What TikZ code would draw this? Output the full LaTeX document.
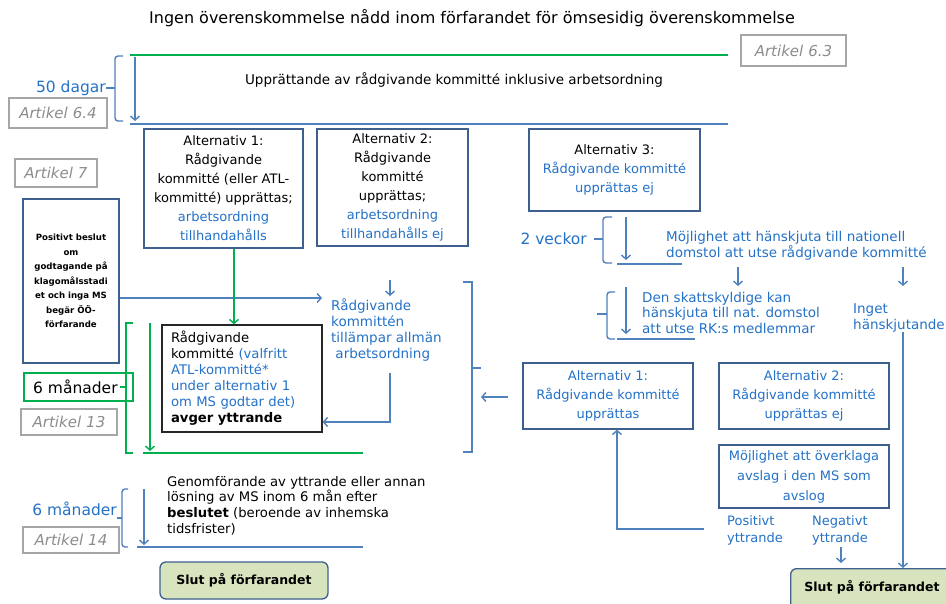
\documentclass[tikz,border=0pt]{standalone}
\usepackage{fontspec}
\setmainfont{DejaVu Sans}[ItalicFont={DejaVu Sans Oblique},BoldItalicFont={DejaVu Sans Bold Oblique}]
\usetikzlibrary{arrows.meta}
\definecolor{boxblue}{HTML}{3F5F8F}
\definecolor{lineblue}{HTML}{4F81BD}
\definecolor{txtblue}{HTML}{2472C8}
\definecolor{grn}{HTML}{00B050}
\definecolor{endfill}{HTML}{D7E4BD}
\definecolor{artgray}{HTML}{A6A6A6}
\definecolor{arttext}{HTML}{8C8C8C}
\newcommand{\fsz}[2]{\fontsize{#1}{#2}\selectfont}
\newcommand{\bt}[1]{{\color{txtblue}#1}}
\begin{document}
\begin{tikzpicture}[x=1pt,y=-1pt,
  >={Straight Barb[length=4pt,width=9pt]},
  bx/.style={draw=boxblue,line width=1.3pt,align=center,inner sep=0pt,font=\fsz{13}{19}},
  artbox/.style={draw=artgray,line width=1.2pt,inner sep=0pt,font=\fsz{15}{16}\itshape,text=arttext},
  bl/.style={draw=lineblue,line width=1.4pt},
  gl/.style={draw=grn,line width=1.4pt},
  endbox/.style={draw=boxblue,line width=1.3pt,fill=endfill,rounded corners=6pt,inner sep=0pt,font=\fsz{12.5}{15}\bfseries},
  btxt/.style={text=txtblue,align=left,inner sep=0pt,font=\fsz{13.5}{16}},
  big/.style={text=txtblue,inner sep=0pt,font=\fsz{15.5}{18}},
]
\clip (0,0) rectangle (946,603);
\fill[white] (0,0) rectangle (946,603);

% title
\node[inner sep=0pt,font=\fsz{16}{18}] (title) at (472,18) {Ingen överenskommelse nådd inom förfarandet för ömsesidig överenskommelse};

% top section
\coordinate (gtl) at (130,55); \coordinate (gtr) at (728,55);
\coordinate (btl) at (130,124); \coordinate (btr) at (728,124);
\draw[gl] (gtl) -- (gtr);
\draw[bl] (btl) -- (btr);
\coordinate (a1s) at (135,57); \coordinate (a1e) at (135,121);
\draw[bl,->] (a1s) -- (a1e);
\node[inner sep=0pt,font=\fsz{13.5}{16}] (upp) at (454,80) {Upprättande av rådgivande kommitté inklusive arbetsordning};
\node[artbox,minimum width=105pt,minimum height=31pt] (art63) at (793.5,50.5) {Artikel\,\,6.3};
\node[artbox,minimum width=98pt,minimum height=30pt] (art64) at (58,113) {Artikel\,\,6.4};
\node[big,anchor=east] (d50) at (106,88) {50 dagar};
\draw[bl,rounded corners=3pt] (123,56) -- (115,56) -- (115,121) -- (123,121);
\draw[bl] (d50.east) -- (115,88);

% alternative boxes
\node[bx,minimum width=159pt,minimum height=119pt] (alt1) at (223.5,188.5)
  {Alternativ 1:\\Rådgivande\\kommitté (eller ATL-\\kommitté) upprättas;\\\bt{arbetsordning}\\\bt{tillhandahålls}};
\node[bx,minimum width=151pt,minimum height=117pt] (alt2) at (392.5,187.5)
  {Alternativ 2:\\Rådgivande\\kommitté\\upprättas;\\\bt{arbetsordning}\\\bt{tillhandahålls ej}};
\node[bx,minimum width=171pt,minimum height=82pt] (alt3) at (614.5,170)
  {Alternativ 3:\\\bt{Rådgivande kommitté}\\\bt{upprättas ej}};

\node[artbox,minimum width=82pt,minimum height=28pt] (art7) at (56,173) {Artikel\,\,7};
\node[bx,minimum width=96pt,minimum height=164pt,font=\fsz{8.6}{14.5}\bfseries] (left) at (71,281)
  {Positivt beslut\\om\\godtagande på\\klagomålsstadi\\et och inga MS\\begär ÖÖ-\\förfarande};

% middle
\node[btxt,anchor=west] (rk) at (331,330) {Rådgivande\\kommittén\\tillämpar allmän\\\ arbetsordning};
\coordinate (rkin) at (322,298);
\draw[bl,->] (left.east |- rkin) -- (rkin);
\coordinate (sa1) at (390,280); \coordinate (sa2) at (390,296);
\draw[bl,->] (sa1) -- (sa2);

\node[draw=black!85,line width=1.3pt,minimum width=160pt,minimum height=107pt,inner sep=0pt,text width=142pt,align=left,font=\fsz{13.2}{16}] (black) at (242,378.5)
  {Rådgivande\\kommitté \bt{(valfritt}\\\bt{ATL-kommitté*}\\\bt{under alternativ 1}\\\bt{om MS godtar det)}\\\textbf{avger yttrande}};
\coordinate (rkout) at (390,373);
\draw[bl,->] (rkout) |- (black.east |- 0,422);

\coordinate (gx) at (234,0);
\draw[gl,->] (alt1.south -| gx) -- (black.north -| gx);

% green bracket
\node[draw=grn,line width=1.3pt,minimum width=109pt,minimum height=28pt,inner sep=0pt] (m6box) at (78.5,387) {};
\node[inner sep=0pt,font=\fsz{15.5}{18},anchor=west] (m6) at (33,387) {6 månader};
\draw[gl] (133,323) -- (126,323) -- (126,453) -- (133,453);
\draw[gl] (120,387) -- (126,387);
\coordinate (ga1) at (150,323); \coordinate (ga2) at (150,451);
\draw[gl,->] (ga1) -- (ga2);
\coordinate (gbl) at (143,453); \coordinate (gbr) at (363,453);
\draw[gl] (gbl) -- (gbr);
\node[artbox,minimum width=96pt,minimum height=26pt] (art13) at (69,422) {Artikel\,\,13};

% right bracket
\draw[bl] (463,282) -- (472,282) -- (472,452) -- (463,452);
\draw[bl] (472,368) -- (481,368);
\coordinate (rbs) at (508,397); \coordinate (rbe) at (481,397);
\draw[bl,->] (rbs) -- (rbe);

% right side
\node[big,anchor=east] (v2) at (587,239) {2 veckor};
\draw[bl] (594,239) -- (603,239);
\draw[bl,rounded corners=3pt] (612,217) -- (603,217) -- (603,263) -- (612,263);
\coordinate (va1) at (626,217); \coordinate (va2) at (626,260);
\draw[bl,->] (va1) -- (va2);
\coordinate (vl1) at (617,264); \coordinate (vl2) at (682,264);
\draw[bl] (vl1) -- (vl2);
\node[btxt,anchor=west] (moj) at (666,246) {Möjlighet att hänskjuta till nationell\\domstol att utse rådgivande kommitté};
\coordinate (ma1) at (738,267); \coordinate (ma2) at (738,286);
\draw[bl,->] (ma1) -- (ma2);
\coordinate (mb1) at (903,267); \coordinate (mb2) at (903,286);
\draw[bl,->] (mb1) -- (mb2);

\draw[bl] (597,314) -- (607,314);
\draw[bl,rounded corners=3pt] (615,292) -- (607,292) -- (607,339) -- (615,339);
\coordinate (sk1) at (626,287); \coordinate (sk2) at (626,334);
\draw[bl,->] (sk1) -- (sk2);
\coordinate (sl1) at (617,339); \coordinate (sl2) at (695,339);
\draw[bl] (sl1) -- (sl2);
\node[btxt,anchor=west,font=\fsz{13.5}{15.5}] (skatt) at (642,312.5) {Den skattskyldige kan\\hänskjuta till nat. domstol\\att utse RK:s medlemmar};
\node[btxt,anchor=west] (inget) at (853,318) {Inget\\hänskjutande};

\node[bx,minimum width=170pt,minimum height=66pt,text=txtblue] (alt1r) at (608,396)
  {Alternativ 1:\\Rådgivande kommitté\\upprättas};
\node[bx,minimum width=170pt,minimum height=66pt,text=txtblue] (alt2r) at (804,396)
  {Alternativ 2:\\Rådgivande kommitté\\upprättas ej};
\node[bx,minimum width=170pt,minimum height=63pt,text=txtblue,font=\fsz{13}{20}] (ovk) at (804,476.5)
  {Möjlighet att överklaga\\avslag i den MS som\\avslog};

\node[btxt,anchor=west,font=\fsz{13}{17}] (pos) at (727,530) {Positivt\\yttrande};
\node[btxt,anchor=west,font=\fsz{13}{17}] (neg) at (812,530) {Negativt\\yttrande};
\coordinate (pl) at (704,529);
\draw[bl,->] (pl) -| (alt1r.south -| 617,0);
\coordinate (na1) at (841,547); \coordinate (na2) at (841,563);
\draw[bl,->] (na1) -- (na2);

\node[endbox,minimum width=170pt,minimum height=44pt,anchor=north west] (endr) at (790,568) {};
\node[inner sep=0pt,font=\fsz{12.5}{15}\bfseries] (endrt) at (872,587) {Slut på förfarandet};
\coordinate (ig) at (903,332);
\draw[bl,->] (ig) -- (endr.north -| ig);

% bottom left
\node[big,anchor=east] (m6b) at (117,509) {6 månader};
\draw[bl,rounded corners=3pt] (128,489) -- (122,489) -- (122,547) -- (128,547);
\draw[bl] (117,518) -- (122,518);
\coordinate (ba1) at (144,489); \coordinate (ba2) at (144,545);
\draw[bl,->] (ba1) -- (ba2);
\coordinate (bl1) at (137,547); \coordinate (bl2) at (363,547);
\draw[bl] (bl1) -- (bl2);
\node[artbox,minimum width=96pt,minimum height=26pt] (art14) at (71,540) {Artikel\,\,14};
\node[anchor=west,align=left,inner sep=0pt,font=\fsz{13.2}{15.7}] (gen) at (167,505.5)
  {Genomförande av yttrande eller annan\\lösning av MS inom 6 mån efter\\\textbf{beslutet} (beroende av inhemska\\tidsfrister)};
\node[endbox,minimum width=168pt,minimum height=37pt] (endl) at (244,580.5) {Slut på förfarandet};
\end{tikzpicture}
\end{document}
